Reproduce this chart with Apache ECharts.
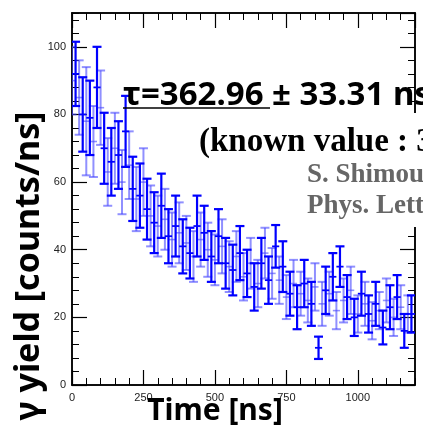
<!DOCTYPE html>
<html>
<head>
<meta charset="utf-8">
<script src="https://cdn.jsdelivr.net/npm/echarts@6/dist/echarts.min.js"></script>
<style>
html,body{margin:0;padding:0;background:#fff;}
#chart{width:423px;height:426px;}
</style>
</head>
<body>
<div id="chart"></div>
<script>
// ---- data ----
const binWidth = 25;               // ns
const darkFirstCenter = 12.5;      // ns
const lightFirstCenter = 0;        // ns
const darkYield = [92,80,79,88,70,66,68,75,58,56,52,48,53,44,47,41,39,47,45,38,44,36,34,39,33,29,36,31,41,35,27,23,30,24,11,28,32,35,26,20,27,21,24,17,23,26,16,21];
const darkErr   = [9.5,11,11,12,10.5,10,10,10.5,9.5,9.5,9,9,9.5,8,9,8,7.5,9,8,7.5,8,7.5,7.5,8,7,7,7.5,7,6.3,7.5,6.5,6.5,7,6.5,3.3,7,7,6,6.5,5.5,6.5,5.5,6.5,5,6.5,6.5,5,5.5];
const lightYield = [90,85,78,72,82,63,70,60,65,55,60,50,47,49,43,45,42,38,43,40,37,41,35,38,32,36,30,39,33,31,26,30,27,25,29,24,27,22,25,28,21,24,19,22,25,20,23,21];
const lightErr   = [10,11,16,10.5,11,10,10.5,9.5,10,9.5,10,9,9,9,8,9,8,7.5,8,8,7.5,8,7.5,7.5,7,7.5,7,7.5,7.5,7,6.5,7,6.5,6.5,7,6.5,6.5,5.5,6.5,7,5.5,6.5,5.5,5.5,6.5,5.5,6.5,5.5];
const xTicks = [0, 250, 500, 750, 1000];
const yTicks = [0, 20, 40, 60, 80, 100];

const darkData = darkYield.map((v, i) => [darkFirstCenter + binWidth * i, v, darkErr[i]]);
const lightData = lightYield.map((v, i) => [lightFirstCenter + binWidth * i, v, lightErr[i]]);

function makeRender(color, lw) {
  return function (params, api) {
    const x = api.value(0), v = api.value(1), e = api.value(2);
    const c = api.coord([x, v]);
    const top = api.coord([x, v + e]);
    const bot = api.coord([x, v - e]);
    const l = api.coord([x - binWidth / 2, v]);
    const r = api.coord([x + binWidth / 2, v]);
    const cap = 4.5;
    const st = { stroke: color, lineWidth: lw };
    return {
      type: 'group',
      children: [
        { type: 'line', shape: { x1: c[0], y1: top[1], x2: c[0], y2: bot[1] }, style: st },
        { type: 'line', shape: { x1: c[0] - cap, y1: top[1], x2: c[0] + cap, y2: top[1] }, style: st },
        { type: 'line', shape: { x1: c[0] - cap, y1: bot[1], x2: c[0] + cap, y2: bot[1] }, style: st },
        { type: 'line', shape: { x1: l[0], y1: c[1], x2: r[0], y2: c[1] }, style: { stroke: color, lineWidth: lw * 0.8 } }
      ]
    };
  };
}

const axisBase = {
  type: 'value',
  splitLine: { show: false },
  axisLine: { show: true, onZero: false, lineStyle: { color: '#000', width: 1.5 } }
};
const lblStyle = { color: '#222', fontSize: 11, fontFamily: 'Liberation Sans' };

const chart = echarts.init(document.getElementById('chart'), null, { renderer: 'canvas' });
chart.setOption({
  animation: false,
  backgroundColor: '#fff',
  grid: { left: 72, top: 13, right: 8, bottom: 41, containLabel: false },
  xAxis: [
    Object.assign({}, axisBase, { position: 'bottom', min: 0, max: 1200, interval: 250,
      axisTick: { inside: true, length: 15, lineStyle: { color: '#000', width: 1.2 } },
      axisLabel: Object.assign({ showMaxLabel: false, margin: 7,
        formatter: v => (xTicks.indexOf(v) >= 0 ? String(v) : '') }, lblStyle) }),
    Object.assign({}, axisBase, { position: 'bottom', min: 0, max: 1200, interval: 50,
      axisTick: { inside: true, length: 7, lineStyle: { color: '#000', width: 1 } },
      axisLabel: { show: false } }),
    Object.assign({}, axisBase, { position: 'top', min: 0, max: 1200, interval: 250,
      axisTick: { inside: true, length: 15, lineStyle: { color: '#000', width: 1.2 } },
      axisLabel: { show: false } }),
    Object.assign({}, axisBase, { position: 'top', min: 0, max: 1200, interval: 50,
      axisTick: { inside: true, length: 7, lineStyle: { color: '#000', width: 1 } },
      axisLabel: { show: false } })
  ],
  yAxis: [
    Object.assign({}, axisBase, { position: 'left', min: 0, max: 110, interval: 20,
      axisTick: { inside: true, length: 15, lineStyle: { color: '#000', width: 1.2 } },
      axisLabel: Object.assign({ showMaxLabel: false, margin: 6,
        formatter: v => (yTicks.indexOf(v) >= 0 ? String(v) : '') }, lblStyle) }),
    Object.assign({}, axisBase, { position: 'left', min: 0, max: 110, interval: 4,
      axisTick: { inside: true, length: 7, lineStyle: { color: '#000', width: 1 } },
      axisLabel: { show: false } }),
    Object.assign({}, axisBase, { position: 'right', min: 0, max: 110, interval: 20,
      axisTick: { inside: true, length: 15, lineStyle: { color: '#000', width: 1.2 } },
      axisLabel: { show: false } }),
    Object.assign({}, axisBase, { position: 'right', min: 0, max: 110, interval: 4,
      axisTick: { inside: true, length: 7, lineStyle: { color: '#000', width: 1 } },
      axisLabel: { show: false } })
  ],
  series: [
    { type: 'custom', name: 'light', xAxisIndex: 0, yAxisIndex: 0, clip: true,
      renderItem: makeRender('rgba(70,70,255,0.6)', 2), data: lightData, z: 2 },
    { type: 'custom', name: 'dark', xAxisIndex: 0, yAxisIndex: 0, clip: true,
      renderItem: makeRender('#0000ff', 2.2), data: darkData, z: 3 }
  ],
  graphic: [
    { type: 'rect', z: 100, shape: { x: 197, y: 113, width: 226, height: 46 }, style: { fill: '#fff' } },
    { type: 'rect', z: 100, shape: { x: 300, y: 159, width: 123, height: 68 }, style: { fill: '#fff' } },
    { type: 'text', z: 101, x: 123, y: 96,
      style: { text: 'τ=362.96 ± 33.31 ns', font: 'bold 33px "Noto Sans"', fill: '#000', textAlign: 'left', textVerticalAlign: 'middle' } },
    { type: 'line', z: 101, shape: { x1: 123, y1: 108, x2: 270, y2: 108 }, style: { stroke: '#000', lineWidth: 1.5 } },
    { type: 'text', z: 101, x: 199, y: 142,
      style: { text: '(known value : 3', font: 'bold 33px "Liberation Serif"', fill: '#000', textAlign: 'left', textVerticalAlign: 'middle' } },
    { type: 'text', z: 101, x: 307, y: 175,
      style: { text: 'S. Shimoura', font: 'bold 27px "Liberation Serif"', fill: '#666', textAlign: 'left', textVerticalAlign: 'middle' } },
    { type: 'text', z: 101, x: 307, y: 206,
      style: { text: 'Phys. Lett.', font: 'bold 27px "Liberation Serif"', fill: '#666', textAlign: 'left', textVerticalAlign: 'middle' } },
    { type: 'text', z: 101, x: 215, y: 411,
      style: { text: 'Time [ns]', font: 'bold 30px "Noto Sans"', fill: '#000', textAlign: 'center', textVerticalAlign: 'middle' } },
    { type: 'text', z: 101, x: 29, y: 266, rotation: Math.PI / 2,
      style: { text: 'γ yield [counts/ns]', font: 'bold 34px "Noto Sans"', fill: '#000', textAlign: 'center', textVerticalAlign: 'middle' } }
  ]
});
</script>
</body>
</html>
